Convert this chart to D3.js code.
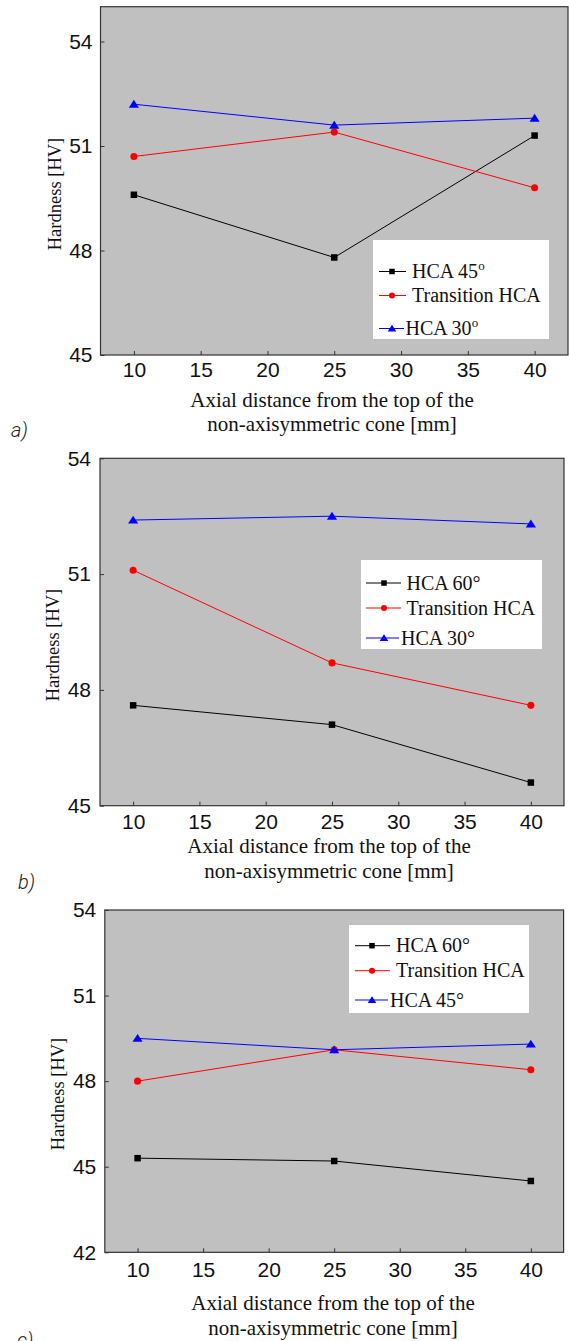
<!DOCTYPE html>
<html>
<head>
  <title>Hardness along the cone</title>
  <script src="https://d3js.org/d3.v7.min.js"></script>
  <style>
    body { margin: 0; background: #fff; }
  </style>
</head>
<body>

<div id="chart"></div>

<script>
// Data
const distances = [10, 25, 40];
const xTicks = [10, 15, 20, 25, 30, 35, 40];

// panel a
const hca45A = [49.6, 47.8, 51.3];
const transitionA = [50.7, 51.4, 49.8];
const hca30A = [52.2, 51.6, 51.8];
const yTicksA = [45, 48, 51, 54];

// panel b
const hca60B = [47.6, 47.1, 45.6];
const transitionB = [51.1, 48.7, 47.6];
const hca30B = [52.4, 52.5, 52.3];
const yTicksB = [45, 48, 51, 54];

// panel c
const hca60C = [45.3, 45.2, 44.5];
const transitionC = [48.0, 49.1, 48.4];
const hca45C = [49.5, 49.1, 49.3];
const yTicksC = [42, 45, 48, 51, 54];

const width = 569;
const height = 1341;

const svg = d3.select("#chart")
  .append("svg")
  .attr("width", width)
  .attr("height", height);

const sans = "'Liberation Sans', Arial, sans-serif";
const serif = "'Liberation Serif', 'Times New Roman', serif";

const panels = [
  {
    tag: "a)", tagX: 11, tagY: 437,
    left: 100.5, right: 568, top: 6.7, bottom: 355,
    yDomain: [45, 55], yTicks: yTicksA,
    xPad: 7, yPad: 8,
    titleX: 332, titleY: 406.5, yTitleX: 61, yTitleY: 194,
    series: [
      { name: "HCA 45", sup: "o", values: hca45A, color: "#000", shape: "square" },
      { name: "Transition HCA", values: transitionA, color: "#ff0000", shape: "circle" },
      { name: "HCA 30", sup: "o", values: hca30A, color: "#0000ff", shape: "triangle" }
    ],
    legend: { x: 373, y: 240, w: 176, h: 99, rows: [271.5, 295.5, 328.5], lineX: [379, 406], markX: 392, textX: [412, 412, 405.5] }
  },
  {
    tag: "b)", tagX: 18, tagY: 889,
    left: 100, right: 564, top: 458.3, bottom: 805.7,
    yDomain: [45, 54], yTicks: yTicksB,
    xPad: 8.5, yPad: 9,
    titleX: 329, titleY: 853, yTitleX: 59, yTitleY: 645,
    series: [
      { name: "HCA 60°", values: hca60B, color: "#000", shape: "square" },
      { name: "Transition HCA", values: transitionB, color: "#ff0000", shape: "circle" },
      { name: "HCA 30°", values: hca30B, color: "#0000ff", shape: "triangle" }
    ],
    legend: { x: 361, y: 560, w: 181, h: 89, rows: [583, 608, 638], lineX: [366, 401], markX: 384, textX: [406.5, 406.5, 401] }
  },
  {
    tag: "c)", tagX: 17, tagY: 1346.5,
    left: 104.8, right: 563.6, top: 910, bottom: 1252.3,
    yDomain: [42, 54], yTicks: yTicksC,
    xPad: 10, yPad: 8.5,
    titleX: 333, titleY: 1310, yTitleX: 64, yTitleY: 1094,
    series: [
      { name: "HCA 60°", values: hca60C, color: "#000", shape: "square" },
      { name: "Transition HCA", values: transitionC, color: "#ff0000", shape: "circle" },
      { name: "HCA 45°", values: hca45C, color: "#0000ff", shape: "triangle" }
    ],
    legend: { x: 349, y: 925, w: 180, h: 88, rows: [945.7, 970.7, 1000], lineX: [355, 390], markX: 372, textX: [396, 396, 390] }
  }
];

function marker(sel, shape, color, size) {
  if (shape === "square") {
    sel.append("rect")
      .attr("x", -size / 2).attr("y", -size / 2)
      .attr("width", size).attr("height", size)
      .attr("fill", color);
  } else if (shape === "circle") {
    sel.append("circle")
      .attr("r", size / 2 + 0.3)
      .attr("fill", color);
  } else {
    const s = size * 1.35;
    sel.append("path")
      .attr("d", `M0,${-s * 0.5}L${s * 0.58},${s * 0.4}L${-s * 0.58},${s * 0.4}Z`)
      .attr("fill", color);
  }
}

panels.forEach(p => {
  const x = d3.scaleLinear().domain([7.5, 42.5]).range([p.left, p.right]);
  const y = d3.scaleLinear().domain(p.yDomain).range([p.bottom, p.top]);

  const g = svg.append("g");

  // plot background
  g.append("rect")
    .attr("x", p.left).attr("y", p.top)
    .attr("width", p.right - p.left).attr("height", p.bottom - p.top)
    .attr("fill", "#c0c0c0");

  // axes, ticks pointing inward
  const xAxis = g.append("g")
    .attr("transform", `translate(0,${p.bottom})`)
    .call(d3.axisBottom(x).tickValues(xTicks).tickSizeInner(-4).tickSizeOuter(0).tickPadding(p.xPad));
  const yAxis = g.append("g")
    .attr("transform", `translate(${p.left},0)`)
    .call(d3.axisLeft(y).tickValues(p.yTicks).tickSizeInner(-4).tickSizeOuter(0).tickPadding(p.yPad));

  [xAxis, yAxis].forEach(ax => {
    ax.select(".domain").remove();
    ax.selectAll(".tick line").attr("stroke", "#333");
    ax.selectAll("text")
      .attr("fill", "#111")
      .style("font-family", sans)
      .style("font-size", "21px");
  });

  // frame
  g.append("rect")
    .attr("x", p.left).attr("y", p.top)
    .attr("width", p.right - p.left).attr("height", p.bottom - p.top)
    .attr("fill", "none")
    .attr("stroke", "#333")
    .attr("stroke-width", 1.2);

  // series
  const line = d3.line()
    .x((d, i) => x(distances[i]))
    .y(d => y(d));

  p.series.forEach(s => {
    g.append("path")
      .datum(s.values)
      .attr("d", line)
      .attr("fill", "none")
      .attr("stroke", s.color)
      .attr("stroke-width", 1);

    s.values.forEach((v, i) => {
      const m = g.append("g")
        .attr("transform", `translate(${x(distances[i])},${y(v)})`);
      marker(m, s.shape, s.color, 6.5);
    });
  });

  // legend
  const L = p.legend;
  g.append("rect")
    .attr("x", L.x).attr("y", L.y)
    .attr("width", L.w).attr("height", L.h)
    .attr("fill", "#fff");

  p.series.forEach((s, i) => {
    const ry = L.rows[i];
    g.append("line")
      .attr("x1", L.lineX[0]).attr("x2", L.lineX[1] - (i === 2 ? 2 : 0))
      .attr("y1", ry).attr("y2", ry)
      .attr("stroke", s.color)
      .attr("stroke-width", 1);
    const m = g.append("g").attr("transform", `translate(${L.markX},${ry})`);
    marker(m, s.shape, s.color, 5.5);

    const t = g.append("text")
      .attr("x", L.textX[i])
      .attr("y", ry + 6.5)
      .attr("fill", "#111")
      .style("font-family", serif)
      .style("font-size", "20px")
      .text(s.name);
    if (s.sup) {
      t.append("tspan")
        .attr("dy", -8)
        .style("font-size", "13px")
        .text(s.sup);
    }
  });

  // axis titles
  const xt = g.append("text")
    .attr("text-anchor", "middle")
    .attr("fill", "#111")
    .style("font-family", serif)
    .style("font-size", "21px");
  xt.append("tspan").attr("x", p.titleX).attr("y", p.titleY)
    .text("Axial distance from the top of the");
  xt.append("tspan").attr("x", p.titleX).attr("y", p.titleY + 24.5)
    .text("non-axisymmetric cone [mm]");

  g.append("text")
    .attr("transform", `translate(${p.yTitleX},${p.yTitleY}) rotate(-90)`)
    .attr("text-anchor", "middle")
    .attr("fill", "#111")
    .style("font-family", serif)
    .style("font-size", "18.5px")
    .text("Hardness [HV]");

  // panel tag
  g.append("text")
    .attr("x", p.tagX)
    .attr("y", p.tagY)
    .attr("fill", "#222")
    .style("font-family", "Roboto, sans-serif")
    .style("font-style", "italic")
    .style("font-weight", 300)
    .style("font-size", "20px")
    .text(p.tag);
});
</script>

</body>
</html>
